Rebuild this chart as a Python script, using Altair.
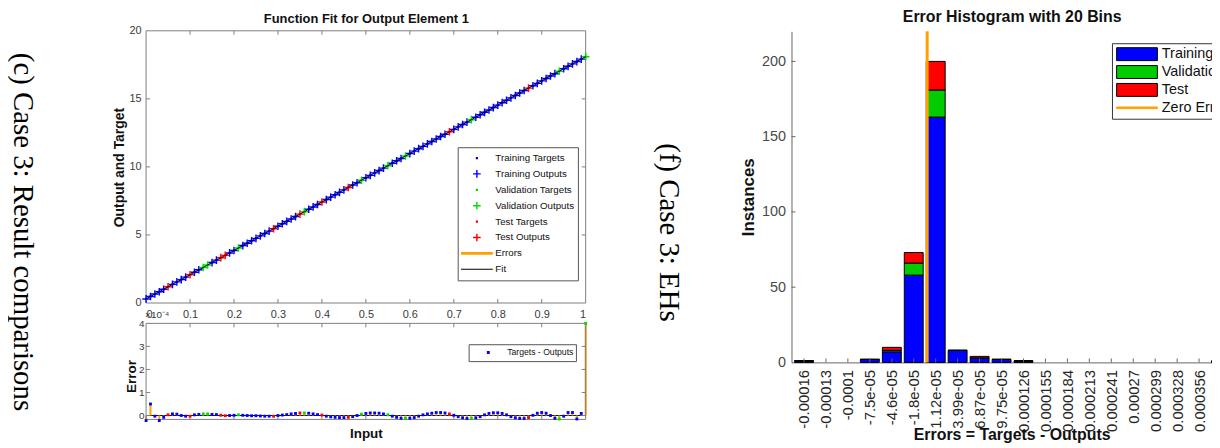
import altair as alt
import pandas as pd

# ---------------- data ----------------
inputs = [0.00, 0.01, 0.02, 0.03, 0.04, 0.05, 0.06, 0.07, 0.08, 0.09,
          0.10, 0.11, 0.12, 0.13, 0.14, 0.15, 0.16, 0.17, 0.18, 0.19,
          0.20, 0.21, 0.22, 0.23, 0.24, 0.25, 0.26, 0.27, 0.28, 0.29,
          0.30, 0.31, 0.32, 0.33, 0.34, 0.35, 0.36, 0.37, 0.38, 0.39,
          0.40, 0.41, 0.42, 0.43, 0.44, 0.45, 0.46, 0.47, 0.48, 0.49,
          0.50, 0.51, 0.52, 0.53, 0.54, 0.55, 0.56, 0.57, 0.58, 0.59,
          0.60, 0.61, 0.62, 0.63, 0.64, 0.65, 0.66, 0.67, 0.68, 0.69,
          0.70, 0.71, 0.72, 0.73, 0.74, 0.75, 0.76, 0.77, 0.78, 0.79,
          0.80, 0.81, 0.82, 0.83, 0.84, 0.85, 0.86, 0.87, 0.88, 0.89,
          0.90, 0.91, 0.92, 0.93, 0.94, 0.95, 0.96, 0.97, 0.98, 0.99, 1.00]

targets = [0.30, 0.48, 0.66, 0.83, 1.01, 1.19, 1.37, 1.55, 1.72, 1.90,
           2.08, 2.26, 2.44, 2.61, 2.79, 2.97, 3.15, 3.33, 3.50, 3.68,
           3.86, 4.04, 4.22, 4.39, 4.57, 4.75, 4.93, 5.11, 5.28, 5.46,
           5.64, 5.82, 6.00, 6.17, 6.35, 6.53, 6.71, 6.89, 7.06, 7.24,
           7.42, 7.60, 7.78, 7.95, 8.13, 8.31, 8.49, 8.67, 8.84, 9.02,
           9.20, 9.38, 9.56, 9.73, 9.91, 10.09, 10.27, 10.45, 10.62, 10.80,
           10.98, 11.16, 11.34, 11.51, 11.69, 11.87, 12.05, 12.23, 12.40, 12.58,
           12.76, 12.94, 13.12, 13.29, 13.47, 13.65, 13.83, 14.01, 14.18, 14.36,
           14.54, 14.72, 14.90, 15.07, 15.25, 15.43, 15.61, 15.79, 15.96, 16.14,
           16.32, 16.50, 16.68, 16.85, 17.03, 17.21, 17.39, 17.57, 17.74, 17.92, 18.10]

# Targets - Outputs, in units of 1e-4
errors_e4 = [-0.22, 0.50, -0.03, -0.22, -0.08, 0.03, 0.07, 0.06, 0.00, -0.03,
             -0.03, 0.03, 0.05, 0.07, 0.07, 0.05, 0.04, 0.01, -0.01, 0.00,
             0.01, 0.03, 0.01, 0.00, -0.01, -0.01, -0.02, -0.03, -0.03, -0.03,
             0.00, 0.02, 0.04, 0.07, 0.09, 0.11, 0.11, 0.10, 0.07, 0.04,
             0.02, -0.03, -0.06, -0.08, -0.09, -0.09, -0.08, -0.05, 0.00, 0.06,
             0.09, 0.11, 0.11, 0.10, 0.07, 0.03, -0.03, -0.08, -0.12, -0.13,
             -0.12, -0.09, -0.03, 0.03, 0.07, 0.10, 0.13, 0.13, 0.11, 0.07,
             0.01, -0.05, -0.10, -0.13, -0.13, -0.10, -0.05, 0.03, 0.09, 0.12,
             0.12, 0.09, 0.03, -0.05, -0.10, -0.13, -0.13, -0.09, 0.01, 0.10,
             0.13, 0.10, 0.00, -0.12, -0.15, -0.03, 0.13, 0.13, -0.15, 0.09, 4.00]

validation_idx = [13, 14, 21, 36, 49, 55, 59, 74, 94, 100]
test_idx = [5, 10, 17, 18, 29, 35, 40, 46, 69, 87]

bin_centers = [-0.0001614, -0.0001326, -0.0001039, -7.51e-05, -4.63e-05,
               -1.76e-05, 1.12e-05, 3.99e-05, 6.87e-05, 9.75e-05,
               0.0001262, 0.000155, 0.0001838, 0.0002125, 0.0002413,
               0.0002701, 0.0002988, 0.0003276, 0.0003563, 0.0003851]
bin_labels = ["-0.00016", "-0.00013", "-0.0001", "-7.5e-05", "-4.6e-05",
              "-1.8e-05", "1.12e-05", "3.99e-05", "6.87e-05", "9.75e-05",
              "0.000126", "0.000155", "0.000184", "0.000213", "0.000241",
              "0.00027", "0.000299", "0.000328", "0.000356", "0.000385"]
hist_training = [1, 0, 0, 2, 7, 58, 163, 8, 3, 2, 1, 0, 0, 0, 0, 0, 0, 0, 0, 0]
hist_validation = [0, 0, 0, 0, 1, 8, 18, 0, 0, 0, 0, 0, 0, 0, 0, 0, 0, 0, 0, 1]
hist_test = [0, 0, 0, 0, 2, 7, 19, 0, 1, 0, 0, 0, 0, 0, 0, 0, 0, 0, 0, 0]

fit_xticks = [0.1, 0.2, 0.3, 0.4, 0.5, 0.6, 0.7, 0.8, 0.9]
fit_xlabels = [0, 0.1, 0.2, 0.3, 0.4, 0.5, 0.6, 0.7, 0.8, 0.9, 1]
fit_yticks = [0, 5, 10, 15, 20]
err_yticks = [0, 1, 2, 3, 4]
hist_yticks = [0, 50, 100, 150, 200]

# ---------------- styling / layout ----------------
W, H, M = 1212, 440, 8
FONT = "Liberation Sans"
AXC = "#7f7f7f"
LBC = "#3a3a3a"
BLUE, GREEN_FIT, GREEN_H, RED, ORANGE = "#0000ff", "#00dd00", "#00cc00", "#ff0000", "#ff9f00"


def px(v):
    return v - M


fit_x = alt.Scale(domain=[0, 1], range=[px(147), px(589.5)], nice=False, zero=False)
fit_y = alt.Scale(domain=[0, 20], range=[px(303.5), px(29.5)], nice=False, zero=False)
err_x = alt.Scale(domain=[0, 1], range=[px(147), px(589.5)], nice=False, zero=False)
err_y = alt.Scale(domain=[-0.17, 4], range=[px(420.7), px(324)], nice=False, zero=False)
h_dom = [-0.0001778, 0.0003993]
hist_x = alt.Scale(domain=h_dom, range=[px(796.7), px(1240)], nice=False, zero=False)
hist_y = alt.Scale(domain=[0, 220], range=[px(363.3), px(30)], nice=False, zero=False)

# symbol paths (unit box scaled by sqrt(size)/2)
DOT = "M-0.07,-0.07H0.07V0.07H-0.07Z"
EDOT = "M-0.09,-0.09H0.09V0.09H-0.09Z"
PLUS = ("M-0.24,-0.045H-0.045V-0.24H0.045V-0.045H0.24V0.045H0.045V0.24"
        "H-0.045V0.045H-0.24Z")
THICK = "M-1,-0.09H1V0.09H-1Z"
THIN = "M-1,-0.03H1V0.03H-1Z"
HRECT = "M-1,-0.317H1V0.317H-1Z"
HLINE = "M-1,-0.04H1V0.04H-1Z"


def box_ticks(xd, yd, xt, yt, dx, dy):
    x0, x1 = xd
    y0, y1 = yd
    rows = [dict(x=x0, x2=x1, y=y0, y2=y0), dict(x=x0, x2=x1, y=y1, y2=y1),
            dict(x=x0, x2=x0, y=y0, y2=y1), dict(x=x1, x2=x1, y=y0, y2=y1)]
    for t in xt:
        rows.append(dict(x=t, x2=t, y=y0, y2=y0 + dy))
        rows.append(dict(x=t, x2=t, y=y1, y2=y1 - dy))
    for t in yt:
        rows.append(dict(x=x0, x2=x0 + dx, y=t, y2=t))
        rows.append(dict(x=x1, x2=x1 - dx, y=t, y2=t))
    return pd.DataFrame(rows)


def set_of(i):
    if i in validation_idx:
        return "Validation"
    if i in test_idx:
        return "Test"
    return "Training"


# ---------------- tables ----------------
pts = pd.DataFrame({"x": inputs, "t": targets, "err": errors_e4})
pts["set"] = [set_of(i) for i in range(len(inputs))]
pts["out"] = pts["t"] - pts["err"] * 1e-4
pts["lbl"] = "Targets - Outputs"

fit_rows = []
for s in ["Training", "Validation", "Test"]:
    sub = pts[pts["set"] == s]
    for _, r in sub.iterrows():
        fit_rows.append(dict(x=r["x"], y=r["t"], series=f"{s} Targets"))
    for _, r in sub.iterrows():
        fit_rows.append(dict(x=r["x"], y=r["out"], series=f"{s} Outputs"))
fit_pts = pd.DataFrame(fit_rows)

series_names = ["Training Targets", "Training Outputs", "Validation Targets",
                "Validation Outputs", "Test Targets", "Test Outputs", "Errors", "Fit"]
series_colors = [BLUE, BLUE, GREEN_FIT, GREEN_FIT, RED, RED, ORANGE, "black"]
series_shapes = [DOT, PLUS, DOT, PLUS, DOT, PLUS, THICK, THIN]

step = bin_centers[1] - bin_centers[0]
half = 0.43 * step
seg = []
for c, a, b, d in zip(bin_centers, hist_training, hist_validation, hist_test):
    if a + b + d == 0:
        continue
    base = 0
    for name, n in (("Training", a), ("Validation", b), ("Test", d)):
        seg.append(dict(lo=c - half, hi=c + half, y0=base, y1=base + n, set=name))
        base += n
seg = pd.DataFrame(seg)

hticks = [dict(x=c, x2=c, y=0, y2=2.6) for c in bin_centers]
hticks += [dict(x=h_dom[0], x2=h_dom[0] + 5.2e-6, y=v, y2=v) for v in hist_yticks[1:]]
hticks = pd.DataFrame(hticks)

# ---------------- fit panel ----------------
fit_frame = alt.Chart(box_ticks([0, 1], [0, 20], fit_xticks, fit_yticks[1:-1], 0.009, 0.29)).mark_rule(
    color=AXC, strokeWidth=1).encode(
    x=alt.X("x:Q", scale=fit_x, axis=alt.Axis(
        orient="bottom", offset=px(303.5) - H, values=fit_xlabels, format=".1~f",
        domain=False, ticks=False, tickSize=0, labelFontSize=11, labelPadding=6,
        labelColor=LBC, title=None, grid=False)),
    x2="x2:Q",
    y=alt.Y("y:Q", scale=fit_y, axis=alt.Axis(
        orient="left", offset=-px(147), values=fit_yticks, domain=False, ticks=False,
        tickSize=0, labelFontSize=11, labelPadding=5, labelColor=LBC, grid=False,
        title="Output and Target", titleFontSize=14, titleFontWeight="bold",
        titleColor="#111", titleX=120.5 - 147, titleY=px(166.7), titleBaseline="middle")),
    y2="y2:Q")

fit_leg = dict(orient="none", legendX=px(460.7), legendY=px(146.7), title=None,
               symbolSize=1024, symbolStrokeWidth=0, clipHeight=15.7, rowPadding=0,
               padding=3, labelFontSize=9.8, labelFont=FONT, labelColor="#111",
               labelOffset=2.6, symbolOffset=0.3, strokeColor="#555",
               fillColor="white", cornerRadius=0, symbolOpacity=1)

fit_pts_layer = alt.Chart(fit_pts).mark_point(filled=True, opacity=1).encode(
    x=alt.X("x:Q", scale=fit_x, axis=None),
    y=alt.Y("y:Q", scale=fit_y, axis=None),
    color=alt.Color("series:N", scale=alt.Scale(domain=series_names, range=series_colors),
                    legend=alt.Legend(**fit_leg)),
    shape=alt.Shape("series:N", scale=alt.Scale(domain=series_names, range=series_shapes),
                    legend=alt.Legend(**fit_leg)),
    size=alt.value(1024))

fit_line = alt.Chart(pts).mark_line(color="black", strokeWidth=1).encode(
    x=alt.X("x:Q", scale=fit_x, axis=alt.Axis(
        orient="top", offset=-px(29.5), labels=False, ticks=False, domain=False, grid=False,
        title="Function Fit for Output Element 1", titleFontSize=13, titleFontWeight="bold",
        titleColor="#111", titleY=17.2 - 29.5, titleBaseline="middle")),
    y=alt.Y("t:Q", scale=fit_y, axis=None))

# ---------------- error panel ----------------
err_zero = alt.Chart(alt.Data(values=[{}])).mark_rule(color="#101020", strokeWidth=1).encode(
    x=alt.XDatum(0, type="quantitative", scale=err_x, axis=None),
    x2=alt.X2Datum(1),
    y=alt.YDatum(0, type="quantitative", scale=err_y, axis=None))

err_stems = alt.Chart(pts).mark_rule(color=ORANGE, strokeWidth=2).encode(
    x=alt.X("x:Q", scale=err_x, axis=None),
    y=alt.Y("err:Q", scale=err_y, axis=None),
    y2=alt.Y2Datum(0))

err_frame = alt.Chart(box_ticks([0, 1], [-0.17, 4], fit_xticks, err_yticks[:-1], 0.009, 0.17)).mark_rule(
    color=AXC, strokeWidth=1).encode(
    x=alt.X("x:Q", scale=err_x, axis=alt.Axis(
        orient="bottom", offset=px(420.7) - H, labels=False, ticks=False, domain=False,
        grid=False, title="Input", titleFontSize=13.5, titleFontWeight="bold",
        titleColor="#111", titleY=435 - 420.7, titleBaseline="middle")),
    x2="x2:Q",
    y=alt.Y("y:Q", scale=err_y, axis=alt.Axis(
        orient="left", offset=-px(147), values=err_yticks, domain=False, ticks=False,
        tickSize=0, labelFontSize=10, labelPadding=2, labelColor=LBC, grid=False,
        title="Error", titleFontSize=13.5, titleFontWeight="bold", titleColor="#111",
        titleX=132 - 147, titleY=px(377), titleBaseline="middle")),
    y2="y2:Q")

err_dots = alt.Chart(pts).mark_point(filled=True, opacity=1).encode(
    x=alt.X("x:Q", scale=err_x, axis=None),
    y=alt.Y("err:Q", scale=err_y, axis=None),
    color=alt.Color("set:N", scale=alt.Scale(domain=["Training", "Validation", "Test"],
                                             range=[BLUE, GREEN_FIT, RED]), legend=None),
    shape=alt.Shape("lbl:N", scale=alt.Scale(domain=["Targets - Outputs"], range=[EDOT]),
                    legend=alt.Legend(
                        orient="none", legendX=px(471.7), legendY=px(345), title=None,
                        symbolSize=1024, symbolStrokeWidth=0, clipHeight=12, rowPadding=0,
                        padding=2.3, labelFontSize=8.7, labelFont=FONT, labelColor="#111",
                        labelOffset=3, symbolOffset=1.5, strokeColor="#555",
                        fillColor="white", cornerRadius=0, symbolFillColor=BLUE,
                        symbolOpacity=1)),
    size=alt.value(1024))

err_exp = alt.Chart(alt.Data(values=[{}])).mark_text(
    align="left", baseline="bottom", fontSize=10, font=FONT, color=LBC, dy=-3, dx=-1).encode(
    x=alt.XDatum(0, type="quantitative", scale=err_x, axis=None),
    y=alt.YDatum(4, type="quantitative", scale=err_y, axis=None),
    text=alt.value("×10⁻⁴"))

# ---------------- histogram ----------------
label_expr = ("[" + ",".join(f"'{s}'" for s in bin_labels) + "]"
              + f"[round((datum.value - ({bin_centers[0]!r})) / ({step!r}))]")

hist_bars = alt.Chart(seg).mark_bar(stroke="black", strokeWidth=1).encode(
    x=alt.X("lo:Q", scale=hist_x, axis=alt.Axis(
        orient="bottom", offset=px(363.3) - H, values=bin_centers, labelExpr=label_expr,
        labelAngle=-90, labelAlign="right", labelBaseline="middle", labelFontSize=15,
        labelPadding=7, labelColor="#262626", labelOverlap=False, ticks=False, tickSize=0,
        domain=True, domainColor="#666", grid=False,
        title="Errors = Targets - Outputs", titleFontSize=16, titleFontWeight="bold",
        titleColor="#111", titleY=436 - 363.3, titleBaseline="middle")),
    x2="hi:Q",
    y=alt.Y("y0:Q", scale=hist_y, axis=alt.Axis(
        orient="left", offset=-px(796.7), values=hist_yticks, ticks=False, tickSize=0,
        domain=True, domainColor="#666", labelFontSize=14.5, labelPadding=6,
        labelColor="#4a4a4a", grid=False, title="Instances", titleFontSize=17,
        titleFontWeight="bold", titleColor="#111", titleX=753 - 796.7,
        titleY=px(196.5), titleBaseline="middle")),
    y2="y1:Q",
    color=alt.Color("set:N", scale=alt.Scale(domain=["Training", "Validation", "Test"],
                                             range=[BLUE, GREEN_H, RED]), legend=None))

hist_ticks = alt.Chart(hticks).mark_rule(color="#666", strokeWidth=1).encode(
    x=alt.X("x:Q", scale=hist_x, axis=None), x2="x2:Q",
    y=alt.Y("y:Q", scale=hist_y, axis=None), y2="y2:Q")

zero_rule = alt.Chart(alt.Data(values=[{}])).mark_rule(color=ORANGE, strokeWidth=3).encode(
    x=alt.XDatum(0, type="quantitative", scale=hist_x, axis=alt.Axis(
        orient="top", offset=-px(30), labels=False, ticks=False, domain=False, grid=False,
        title="Error Histogram with 20 Bins", titleFontSize=16, titleFontWeight="bold",
        titleColor="#111", titleY=15.5 - 30, titleBaseline="middle")),
    y=alt.YDatum(0, type="quantitative", scale=hist_y, axis=None),
    y2=alt.Y2Datum(220))

h_entries = ["Training", "Validation", "Test", "Zero Error"]
h_leg = dict(orient="none", legendX=px(1119.3), legendY=px(42), title=None,
             symbolSize=1681, symbolStrokeWidth=1, clipHeight=18, rowPadding=0,
             padding=2, labelFontSize=14.5, labelFont=FONT, labelColor="#111",
             labelOffset=4, symbolOffset=2.2, strokeColor="#333", fillColor="white",
             cornerRadius=0, symbolOpacity=1)
hist_legend = alt.Chart(pd.DataFrame({"entry": h_entries})).mark_point(
    filled=True, opacity=0).encode(
    color=alt.Color("entry:N", scale=alt.Scale(domain=h_entries,
                                               range=[BLUE, GREEN_H, RED, ORANGE]),
                    legend=alt.Legend(**h_leg)),
    stroke=alt.Stroke("entry:N", scale=alt.Scale(domain=h_entries,
                                                 range=["black", "black", "black", ORANGE]),
                      legend=alt.Legend(**h_leg)),
    shape=alt.Shape("entry:N", scale=alt.Scale(domain=h_entries,
                                               range=[HRECT, HRECT, HRECT, HLINE]),
                    legend=alt.Legend(**h_leg)))

# ---------------- side captions ----------------
cap_c = alt.Chart(alt.Data(values=[{"t": "(c) Case 3: Result comparisons"}])).mark_text(
    angle=90, font="Liberation Serif", fontSize=29, align="center", baseline="middle",
    color="black").encode(x=alt.value(px(23.5)), y=alt.value(px(232)), text="t:N")
cap_f = alt.Chart(alt.Data(values=[{"t": "(f) Case 3: EHs"}])).mark_text(
    angle=90, font="Liberation Serif", fontSize=29, align="center", baseline="middle",
    color="black").encode(x=alt.value(px(673.5)), y=alt.value(px(232.5)), text="t:N")

chart = alt.layer(
    fit_frame, fit_pts_layer, fit_line,
    err_zero, err_stems, err_frame, err_dots, err_exp,
    hist_bars, hist_ticks, zero_rule, hist_legend,
    cap_c, cap_f,
).resolve_scale(
    x="independent", y="independent", color="independent", shape="independent",
    stroke="independent"
).resolve_axis(
    x="independent", y="independent"
).resolve_legend(
    color="independent", shape="independent", stroke="independent"
).properties(
    width=W, height=H, padding=0, autosize=alt.AutoSizeParams(type="none")
).configure_view(
    strokeWidth=0
).configure_axis(
    labelFont=FONT, titleFont=FONT, grid=False, labelOverlap=False
).configure_legend(
    labelFont=FONT
)

chart.save("out.html", embed_options={"renderer": "svg", "actions": False})
